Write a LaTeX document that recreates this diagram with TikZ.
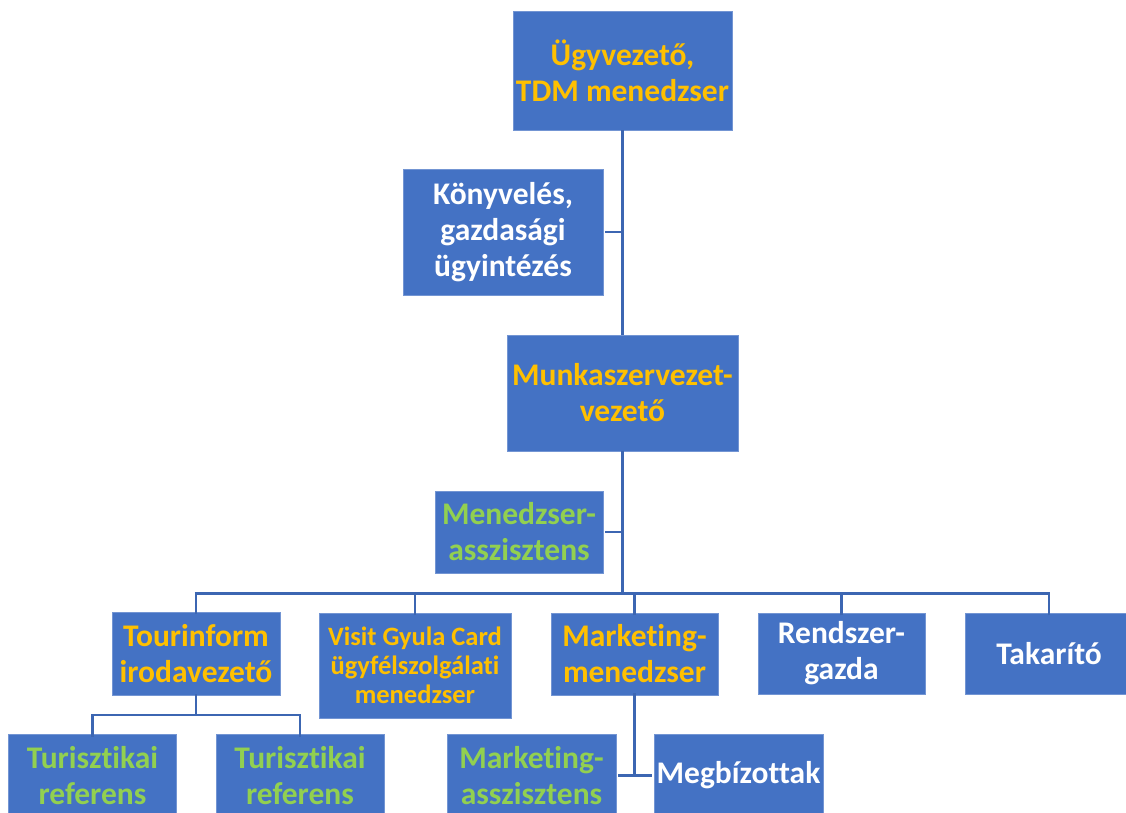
\documentclass[tikz,border=0pt]{standalone}
\usepackage{fontspec}
\setmainfont{Carlito}[Ligatures={NoCommon}]
\definecolor{boxblue}{HTML}{4472C4}
\definecolor{lineblue}{HTML}{3C66B2}
\definecolor{orangeT}{HTML}{FFC000}
\definecolor{greenT}{HTML}{92D050}
\tikzset{
  box/.style={fill=boxblue, draw=boxblue!75!white, line width=0.6pt, inner sep=0pt, outer sep=0pt, align=flush center,
    font=\bfseries\fontsize{31.5}{36}\selectfont},
  conn/.style={draw=lineblue, line width=2.6pt}
}
\begin{document}
\begin{tikzpicture}[x=1pt,y=-1pt]
\useasboundingbox (0,0) rectangle (1126,812);
% nodes
\node[box, minimum width=219pt, minimum height=119pt, text width=219pt, text=orangeT] (top) at (622.5,70.5) {Ügyvezető,\\TDM menedzser};
\node[box, minimum width=200pt, minimum height=126pt, text width=200pt, text=white] (konyv) at (503,232) {Könyvelés,\\gazdasági\\ügyintézés};
\node[box, minimum width=231pt, minimum height=116pt, text width=231pt, text=orangeT] (munka) at (622.5,393) {Munkaszervezet-\\vezető};
\node[box, minimum width=168pt, minimum height=82pt, text width=168pt, text=greenT] (menasz) at (519,532) {Menedzser-\\asszisztens};
\node[box, minimum width=168pt, minimum height=83pt, text width=168pt, text=orangeT] (tour) at (196,653.5) {Tourinform\\irodavezető};
\node[box, minimum width=192pt, minimum height=105pt, text width=192pt, text=orangeT, font=\bfseries\fontsize{26.5}{29}\selectfont] (visit) at (415,665.5) {Visit Gyula Card\\ügyfélszolgálati\\menedzser};
\node[box, minimum width=167pt, minimum height=82pt, text width=167pt, text=orangeT] (mkt) at (634.5,654) {Marketing-\\menedzser};
\node[box, minimum width=167pt, minimum height=81pt, text width=167pt, text=white] (rend) at (841.5,653.5) {Rendszer-\\gazda};
\node[box, minimum width=167pt, minimum height=81pt, text width=167pt, text=white] (tak) at (1049,653.5) {Takarító};
\node[box, minimum width=168pt, minimum height=82pt, text width=168pt, text=greenT] (tur1) at (92.5,775.5) {Turisztikai\\referens};
\node[box, minimum width=168pt, minimum height=82pt, text width=168pt, text=greenT] (tur2) at (300,775.5) {Turisztikai\\referens};
\node[box, minimum width=169pt, minimum height=82pt, text width=169pt, text=greenT] (masz) at (531.5,775.5) {Marketing-\\asszisztens};
\node[box, minimum width=169pt, minimum height=82pt, text width=169pt, text=white] (megb) at (738.5,775.5) {Megbízottak};
% connectors
\coordinate (bar) at (622.5,593.5);
\coordinate (tbar) at (196,715);
\draw[conn] (top.south) -- (munka.north);
\draw[conn] ([xshift=2pt]konyv.east) -- (konyv.east -| top.south);
\draw[conn] (munka.south) -- (bar);
\draw[conn] ([xshift=2pt]menasz.east) -- (menasz.east -| munka.south);
\draw[conn] ([xshift=-1.3pt]tour.north |- bar) -- ([xshift=1.3pt]tak.north |- bar);
\foreach \n in {tour,visit,mkt,rend,tak}{
  \draw[conn] ([yshift=-2pt]\n.north) -- (\n.north |- bar);
}
\draw[conn] ([yshift=1pt]tour.south) -- (tbar);
\draw[conn] ([xshift=-1.3pt]tur1.north |- tbar) -- ([xshift=1.3pt]tur2.north |- tbar);
\draw[conn] ([yshift=-2pt]tur1.north) -- (tur1.north |- tbar);
\draw[conn] ([yshift=-2pt]tur2.north) -- (tur2.north |- tbar);
\draw[conn] ([yshift=2pt]mkt.south) -- (mkt.south |- megb.west);
\draw[conn] ([xshift=2pt]masz.east) -- ([xshift=-2pt]megb.west);
\end{tikzpicture}
\end{document}
